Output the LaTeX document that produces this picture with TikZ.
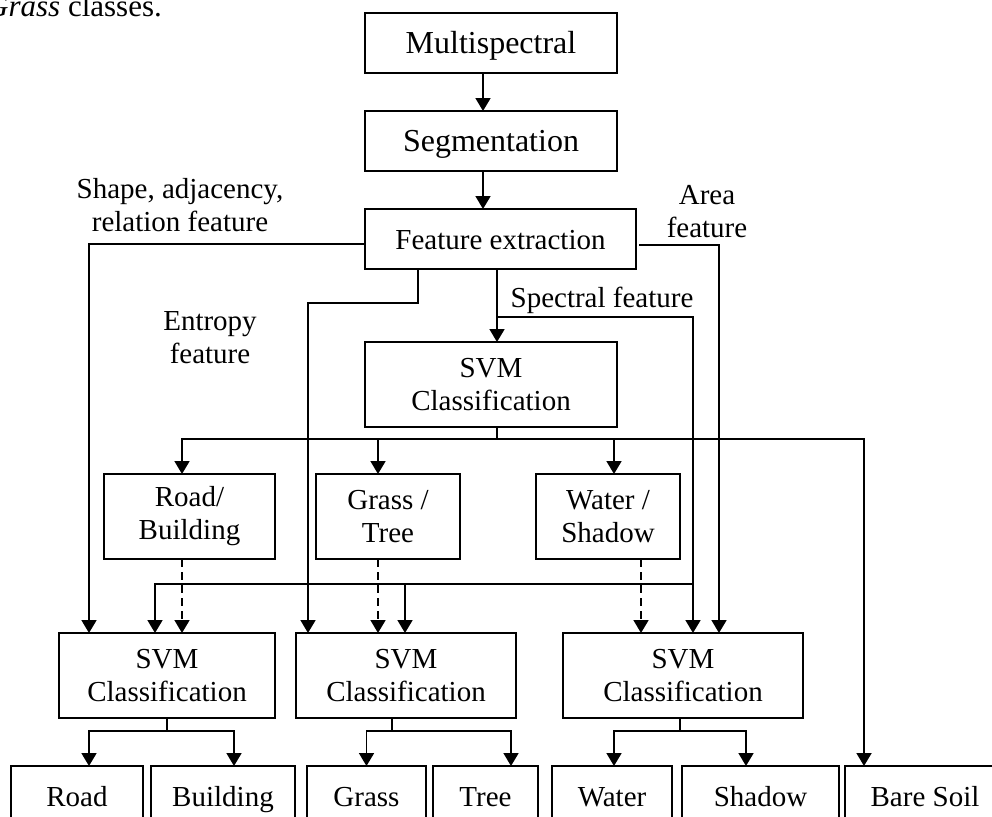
\documentclass[tikz,border=0pt]{standalone}
\usepackage{fontspec}
\setmainfont{Liberation Serif}
\usetikzlibrary{arrows.meta, positioning}

\begin{document}
\begin{tikzpicture}[
    x=1pt, y=-1pt,
    font=\fontsize{29}{33}\selectfont,
    box/.style={draw, line width=1.8pt, inner sep=0pt, outer sep=0pt, minimum height=60pt, align=center},
    onebox/.style={box, text height=20pt, text depth=0pt},
    bigbox/.style={onebox, font=\fontsize{32}{36}\selectfont},
    twobox/.style={box, minimum height=85pt},
    leaf/.style={onebox, minimum height=60pt},
    note/.style={align=center, inner sep=0pt},
    arrow/.style={-{Triangle[length=13pt,width=15pt]}, line width=1.8pt},
    dasharrow/.style={arrow, dash pattern=on 8pt off 5pt}
]
    \useasboundingbox (0,0) rectangle (992,816);

    \node[note, anchor=base west, font=\fontsize{31}{36}\selectfont] (caption) at (-14,17) {\textit{Grass} classes.};

    \node[bigbox, minimum width=252pt] (multi) at (491,43) {Multispectral};
    \node[bigbox, minimum width=252pt, below=38pt of multi] (seg) {Segmentation};
    \node[onebox, minimum width=271pt, below right=38pt and 0pt of seg.south west] (feat) {Feature extraction};
    \node[twobox, minimum width=252pt, below right=73pt and 0pt of feat.south west] (svm0) {SVM\\Classification};

    \node[twobox, minimum width=171pt, anchor=north west] (rb) at (104,474) {Road/\\Building};
    \node[twobox, minimum width=144pt, right=41pt of rb] (gt) {Grass /\\Tree};
    \node[twobox, minimum width=144pt, right=76pt of gt] (ws) {Water /\\Shadow};

    \node[twobox, minimum width=216pt, anchor=north west] (svm1) at (59,633) {SVM\\Classification};
    \node[twobox, minimum width=220pt, right=21pt of svm1] (svm2) {SVM\\Classification};
    \node[twobox, minimum width=240pt, right=47pt of svm2] (svm3) {SVM\\Classification};

    \node[leaf, minimum width=132pt, anchor=north west] (road) at (11,766) {Road};
    \node[leaf, minimum width=144pt, right=8pt of road] (building) {Building};
    \node[leaf, minimum width=119pt, right=12pt of building] (grass) {Grass};
    \node[leaf, minimum width=105pt, right=7pt of grass] (tree) {Tree};
    \node[leaf, minimum width=120pt, right=14pt of tree] (water) {Water};
    \node[leaf, minimum width=157pt, right=10pt of water] (shadow) {Shadow};
    \node[leaf, minimum width=160pt, right=6pt of shadow] (bare) {Bare Soil};

    \node[note] (shapelbl) at (180,205) {Shape, adjacency,\\relation feature};
    \node[note] (entlbl) at (210,338) {Entropy\\feature};
    \node[note] (arealbl) at (707,212) {Area\\feature};
    \node[note, anchor=base] (speclbl) at (602,307) {Spectral feature};

    % top chain
    \draw[arrow] ([xshift=-8pt]multi.south) -- ([xshift=-8pt]seg.north);
    \draw[arrow] ([xshift=-8pt]seg.south) -- ([xshift=-8pt]seg.south |- feat.north);
    \draw[arrow] ([xshift=-3.5pt]feat.south) -- ([xshift=-3.5pt]feat.south |- svm0.north);

    % feature lines
    \coordinate (spec) at (497,317);
    \coordinate (specbus) at (693,584);
    \draw[arrow] (spec) -| ([xshift=10pt]svm3.north);
    \draw[arrow] (specbus) -| ([xshift=-12pt]svm1.north);
    \draw[arrow] ([xshift=-1pt]svm2.north |- specbus) -- ([xshift=-1pt]svm2.north);
    \draw[arrow] ([xshift=-82.5pt]feat.south) -- ++(0,34) -| ([xshift=-98pt]svm2.north);
    \draw[arrow] ([yshift=-5pt]feat.west) -| ([xshift=-78pt]svm1.north);
    \draw[arrow] ([xshift=3pt,yshift=-6pt]feat.east) -| ([xshift=36pt]svm3.north);

    % first classifier
    \draw[line width=1.8pt] ([xshift=6pt]svm0.south) -- ++(0,12) coordinate (bus0);
    \draw[arrow] (bus0) -| ([xshift=-7.5pt]rb.north);
    \draw[arrow] (bus0) -| ([xshift=-10pt]gt.north);
    \draw[arrow] (bus0) -| ([xshift=6pt]ws.north);
    \draw[arrow] (bus0) -| ([xshift=19pt]bare.north west);

    % dashed links
    \draw[dasharrow] ([xshift=-7.5pt]rb.south) -- ([xshift=-7.5pt]rb.south |- svm1.north);
    \draw[dasharrow] ([xshift=-10pt]gt.south) -- ([xshift=-10pt]gt.south |- svm2.north);
    \draw[dasharrow] ([xshift=33pt]ws.south) -- ([xshift=33pt]ws.south |- svm3.north);

    % leaves
    \draw[line width=1.8pt] (svm1.south) -- ++(0,13) coordinate (bus1);
    \draw[arrow] (bus1) -| ([xshift=12pt]road.north);
    \draw[arrow] (bus1) -| ([xshift=11pt]building.north);
    \draw[line width=1.8pt] ([xshift=-14pt]svm2.south) -- ++(0,13) coordinate (bus2);
    \draw[arrow] (bus2) -| (grass.north);
    \draw[arrow] (bus2) -| ([xshift=25.5pt]tree.north);
    \draw[line width=1.8pt] ([xshift=-3pt]svm3.south) -- ++(0,13) coordinate (bus3);
    \draw[arrow] (bus3) -| ([xshift=2pt]water.north);
    \draw[arrow] (bus3) -| ([xshift=-14.5pt]shadow.north);
\end{tikzpicture}
\end{document}
